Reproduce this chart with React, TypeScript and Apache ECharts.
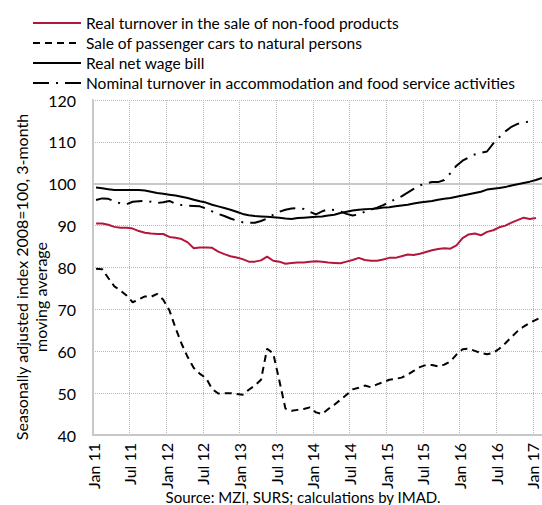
import React, { useEffect, useRef } from "react";
import * as echarts from "echarts";

// Monthly data, Jan 2011 onward (index 0 = Jan 11)
const xTickLabels = [
  "Jan 11", "Jul 11", "Jan 12", "Jul 12", "Jan 13", "Jul 13", "Jan 14",
  "Jul 14", "Jan 15", "Jul 15", "Jan 16", "Jul 16", "Jan 17",
];

const seriesNames = [
  "Real turnover in the sale of non-food products",
  "Sale of passenger cars to natural persons",
  "Real net wage bill",
  "Nominal turnover in accommodation and food service activities",
];

const nonFood = [
  90.5, 90.5, 90.2, 89.7, 89.5, 89.5, 89.3, 88.7, 88.3, 88.1, 88.0, 88.0,
  87.3, 87.1, 86.8, 86.0, 84.6, 84.8, 84.8, 84.7, 83.8, 83.2, 82.7, 82.4,
  82.0, 81.4, 81.4, 81.7, 82.6, 81.6, 81.4, 80.9, 81.1, 81.2, 81.2, 81.4,
  81.5, 81.4, 81.2, 81.1, 81.0, 81.4, 81.8, 82.3, 81.8, 81.6, 81.6, 81.9,
  82.3, 82.3, 82.7, 83.1, 83.0, 83.3, 83.7, 84.1, 84.4, 84.6, 84.5, 85.3,
  87.0, 87.9, 88.1, 87.7, 88.5, 88.9, 89.6, 90.0, 90.7, 91.3, 91.9, 91.6,
  91.8,
];

const cars = [
  79.7, 79.6, 77.5, 75.5, 74.5, 73.3, 71.7, 72.4, 73.1, 73.0, 73.7, 72.3,
  69.8, 65.6, 61.8, 58.6, 56.0, 54.6, 53.6, 51.0, 49.9, 50.0, 50.0, 49.8,
  49.6, 50.8, 51.8, 53.2, 60.6, 59.5, 53.0, 46.3, 45.8, 46.0, 46.2, 46.6,
  45.4, 45.0, 46.2, 47.2, 48.4, 49.6, 50.9, 51.3, 51.8, 51.4, 52.1, 52.6,
  53.2, 53.4, 53.7, 54.4, 55.3, 56.2, 56.7, 56.7, 56.4, 56.8, 57.6, 59.2,
  60.5, 60.6, 60.1, 59.6, 59.3, 59.6, 60.6, 61.9, 63.4, 64.8, 65.9, 66.8,
  67.5, 68.2,
];

const wageBill = [
  99.1, 98.9, 98.7, 98.5, 98.5, 98.5, 98.5, 98.5, 98.4, 98.1, 97.8, 97.6,
  97.4, 97.2, 96.9, 96.6, 96.2, 95.8, 95.5, 95.0, 94.6, 94.2, 93.8, 93.3,
  92.8, 92.5, 92.3, 92.2, 92.1, 92.0, 91.9, 91.7, 91.6, 91.8, 91.9, 92.0,
  92.1, 92.2, 92.4, 92.6, 93.0, 93.3, 93.6, 93.8, 93.9, 94.0, 94.1, 94.3,
  94.4, 94.6, 94.8, 95.0, 95.3, 95.5, 95.7, 95.9, 96.2, 96.4, 96.6, 96.9,
  97.2, 97.5, 97.8, 98.1, 98.6, 98.8, 99.0, 99.2, 99.6, 99.9, 100.2, 100.5,
  100.9, 101.4,
];

const accommodation = [
  96.1, 96.5, 96.4, 95.8, 95.3, 95.1, 95.7, 95.8, 95.9, 95.7, 95.4, 95.6,
  95.9, 95.2, 94.9, 94.8, 94.7, 94.6, 94.1, 93.4, 92.8, 92.3, 91.7, 91.2,
  90.8, 90.7, 90.7, 91.1, 91.7, 92.6, 93.3, 93.8, 94.1, 94.2, 94.0, 93.3,
  92.7, 93.4, 93.9, 93.7, 93.4, 92.8, 92.4, 92.7, 93.3, 93.8, 94.3, 94.9,
  95.6, 96.3, 97.0, 97.9, 98.8, 99.6, 100.1, 100.4, 100.4, 100.9, 102.5, 104.3,
  105.5, 106.3, 107.0, 107.4, 107.7, 109.6, 111.1, 112.5, 113.6, 114.3, 114.6, 114.9,
];

const yAxisTitle = ["Seasonally adjusted index 2008=100, 3-month", "moving average"];
const sourceText = "Source: MZI, SURS; calculations by IMAD.";

const FONT = "Lato";
const RED = "#b3183a";

// each monthly value is plotted at the middle of its month
const toPoints = (arr: number[]) => arr.map((v, i) => [i + 0.5, v]);

export default function App() {
  const ref = useRef<HTMLDivElement>(null);

  useEffect(() => {
    if (!ref.current) return;
    const chart = echarts.init(ref.current, null, { renderer: "svg" });
    chart.setOption({
      animation: false,
      textStyle: { fontFamily: FONT },
      grid: { left: 93, top: 100, right: 0, bottom: 70, containLabel: false },
      legend: {
        orient: "vertical",
        left: 32,
        top: 15,
        padding: 0,
        itemWidth: 48,
        itemHeight: 14,
        itemGap: 4,
        itemStyle: { color: "rgba(0,0,0,0)", borderWidth: 0, opacity: 0 },
        textStyle: { fontFamily: FONT, fontSize: 15.5, color: "#000" },
        data: seriesNames,
      },
      xAxis: {
        type: "value",
        min: 0,
        max: 73.5,
        interval: 6,
        axisLine: { show: true, onZero: false, lineStyle: { color: "#c8c8c8", width: 2 } },
        axisTick: { show: false },
        axisLabel: {
          rotate: 90,
          margin: 8,
          fontFamily: FONT,
          fontSize: 16,
          color: "#000",
          showMaxLabel: false,
          formatter: (v: number) =>
            Math.abs(v % 6) < 1e-9 && xTickLabels[v / 6] ? xTickLabels[v / 6] : "",
        },
        splitLine: { show: true, lineStyle: { color: "#b8b8b8", width: 1, type: [1, 1] } },
      },
      yAxis: {
        type: "value",
        min: 40,
        max: 120,
        interval: 10,
        axisLine: { show: true, lineStyle: { color: "#c8c8c8", width: 2 } },
        axisTick: { show: false },
        axisLabel: { margin: 17, fontFamily: FONT, fontSize: 16, color: "#000" },
        splitLine: { show: true, lineStyle: { color: "#b8b8b8", width: 1, type: [1, 1] } },
      },
      graphic: [
        {
          type: "text",
          x: 21,
          y: 277,
          rotation: Math.PI / 2,
          style: {
            text: yAxisTitle[0],
            fontFamily: FONT,
            fontSize: 16,
            fill: "#000",
            textAlign: "center",
            textVerticalAlign: "middle",
          },
        },
        {
          type: "text",
          x: 40,
          y: 297,
          rotation: Math.PI / 2,
          style: {
            text: yAxisTitle[1],
            fontFamily: FONT,
            fontSize: 16,
            fill: "#000",
            textAlign: "center",
            textVerticalAlign: "middle",
          },
        },
        {
          type: "text",
          x: 303,
          y: 497,
          style: {
            text: sourceText,
            fontFamily: FONT,
            fontSize: 15,
            fill: "#000",
            textAlign: "center",
            textVerticalAlign: "middle",
          },
        },
      ],
      series: [
        {
          name: seriesNames[0],
          type: "line",
          data: toPoints(nonFood),
          symbol: "none",
          lineStyle: { color: RED, width: 2 },
          itemStyle: { color: RED },
          markLine: {
            silent: true,
            symbol: "none",
            label: { show: false },
            lineStyle: { color: "#c8c8c8", width: 2, type: "solid" },
            data: [{ yAxis: 100 }],
            z: 1,
          },
        },
        {
          name: seriesNames[1],
          type: "line",
          data: toPoints(cars),
          symbol: "none",
          lineStyle: { color: "#000", width: 2, type: [7, 5] },
          itemStyle: { color: "#000" },
        },
        {
          name: seriesNames[2],
          type: "line",
          data: toPoints(wageBill),
          symbol: "none",
          lineStyle: { color: "#000", width: 2 },
          itemStyle: { color: "#000" },
        },
        {
          name: seriesNames[3],
          type: "line",
          data: toPoints(accommodation),
          symbol: "none",
          lineStyle: { color: "#000", width: 2, type: [16, 7, 2, 7] },
          itemStyle: { color: "#000" },
        },
      ],
    });
    return () => chart.dispose();
  }, []);

  return <div ref={ref} style={{ width: 542, height: 505, position: "absolute", left: 0, top: 0 }} />;
}
